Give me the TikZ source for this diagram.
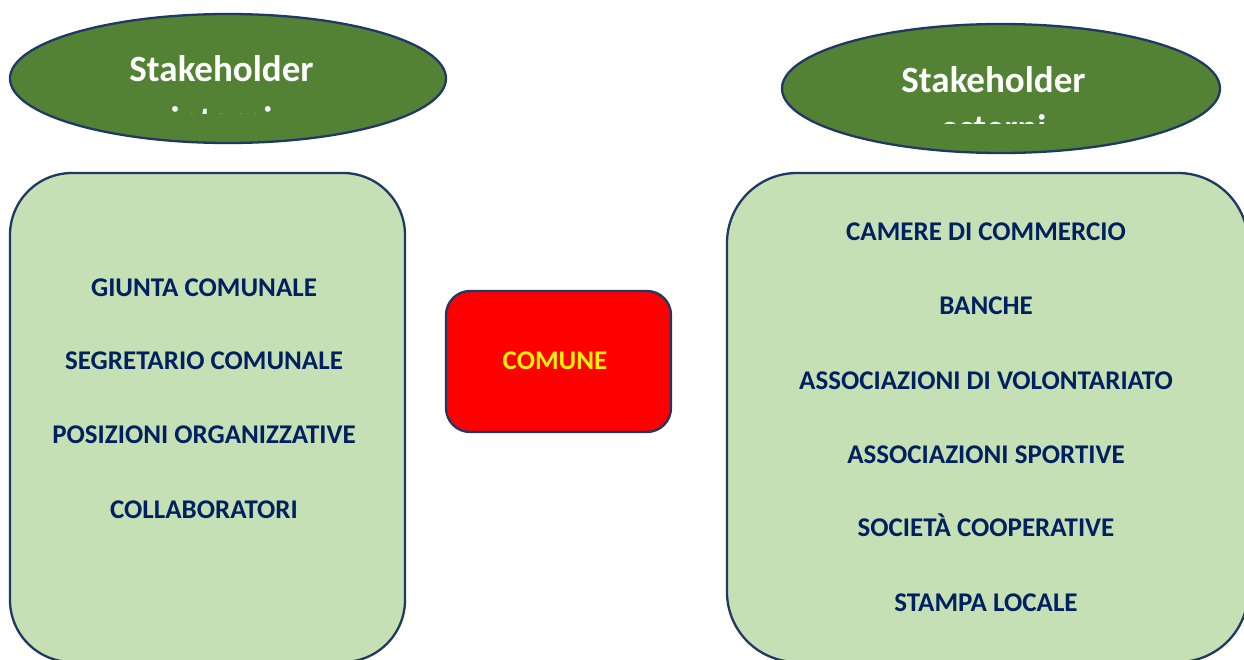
\documentclass[tikz,border=0pt]{standalone}
\usepackage{fontspec}
\setmainfont{Carlito}
\usetikzlibrary{shapes.geometric}
\definecolor{navy}{HTML}{1F3864}
\definecolor{txtnavy}{HTML}{002060}
\definecolor{dgreen}{HTML}{548235}
\definecolor{lgreen}{HTML}{C5E0B4}
\tikzset{
  oval/.style={ellipse, draw=navy, line width=2.3pt, fill=dgreen, inner sep=0pt},
  panel/.style={draw=navy, line width=2.3pt, fill=lgreen},
  citem/.style={anchor=base, text=txtnavy, font=\fontsize{27}{32}\selectfont\bfseries, inner sep=0pt},
  shtext/.style={anchor=base, text=white, font=\fontsize{37}{48}\selectfont\bfseries, inner sep=0pt},
}
\begin{document}
\begin{tikzpicture}[x=1pt,y=-1pt]
\clip (0,0) rectangle (1244,659);
\fill[white] (0,0) rectangle (1244,659);
% ellipses
\node[oval, minimum width=436pt, minimum height=129pt] (eL) at (228,78.5) {};
\node[oval, minimum width=438pt, minimum height=129pt] (eR) at (1001,88.5) {};
\node[shtext] (tL) at (221.5,81) {Stakeholder};
\node[shtext] (tR) at (993.5,92) {Stakeholder};
\begin{scope}
\clip (0,0) rectangle (1244,113);
\node[shtext] (tL2) at (221.5,132.5) {interni};
\end{scope}
\begin{scope}
\clip (0,0) rectangle (1244,123.5);
\node[shtext] (tR2) at (993.5,140) {esterni};
\end{scope}
% panels
\draw[panel, rounded corners=62pt] (10,173) rectangle (405,662);
\draw[panel, rounded corners=70pt] (727,173) rectangle (1248,662);
\node[citem] (g1) at (204,296.5) {GIUNTA COMUNALE};
\node[citem] (g2) at (204,369.5) {SEGRETARIO COMUNALE};
\node[citem] (g3) at (204,443.5) {POSIZIONI ORGANIZZATIVE};
\node[citem] (g4) at (204,518.5) {COLLABORATORI};
\node[citem] (r1) at (986,240.5) {CAMERE DI COMMERCIO};
\node[citem] (r2) at (986,314.5) {BANCHE};
\node[citem] (r3) at (986,389.5) {ASSOCIAZIONI DI VOLONTARIATO};
\node[citem] (r4) at (986,463.5) {ASSOCIAZIONI SPORTIVE};
\node[citem] (r5) at (986,536.5) {SOCIETÀ COOPERATIVE};
\node[citem] (r6) at (986,611.5) {STAMPA LOCALE};
% comune
\draw[draw=navy, line width=2.3pt, fill=red, rounded corners=24pt] (446,291) rectangle (671,432);
\node[citem, text=yellow] (com) at (555,369.5) {COMUNE};
\end{tikzpicture}
\end{document}
